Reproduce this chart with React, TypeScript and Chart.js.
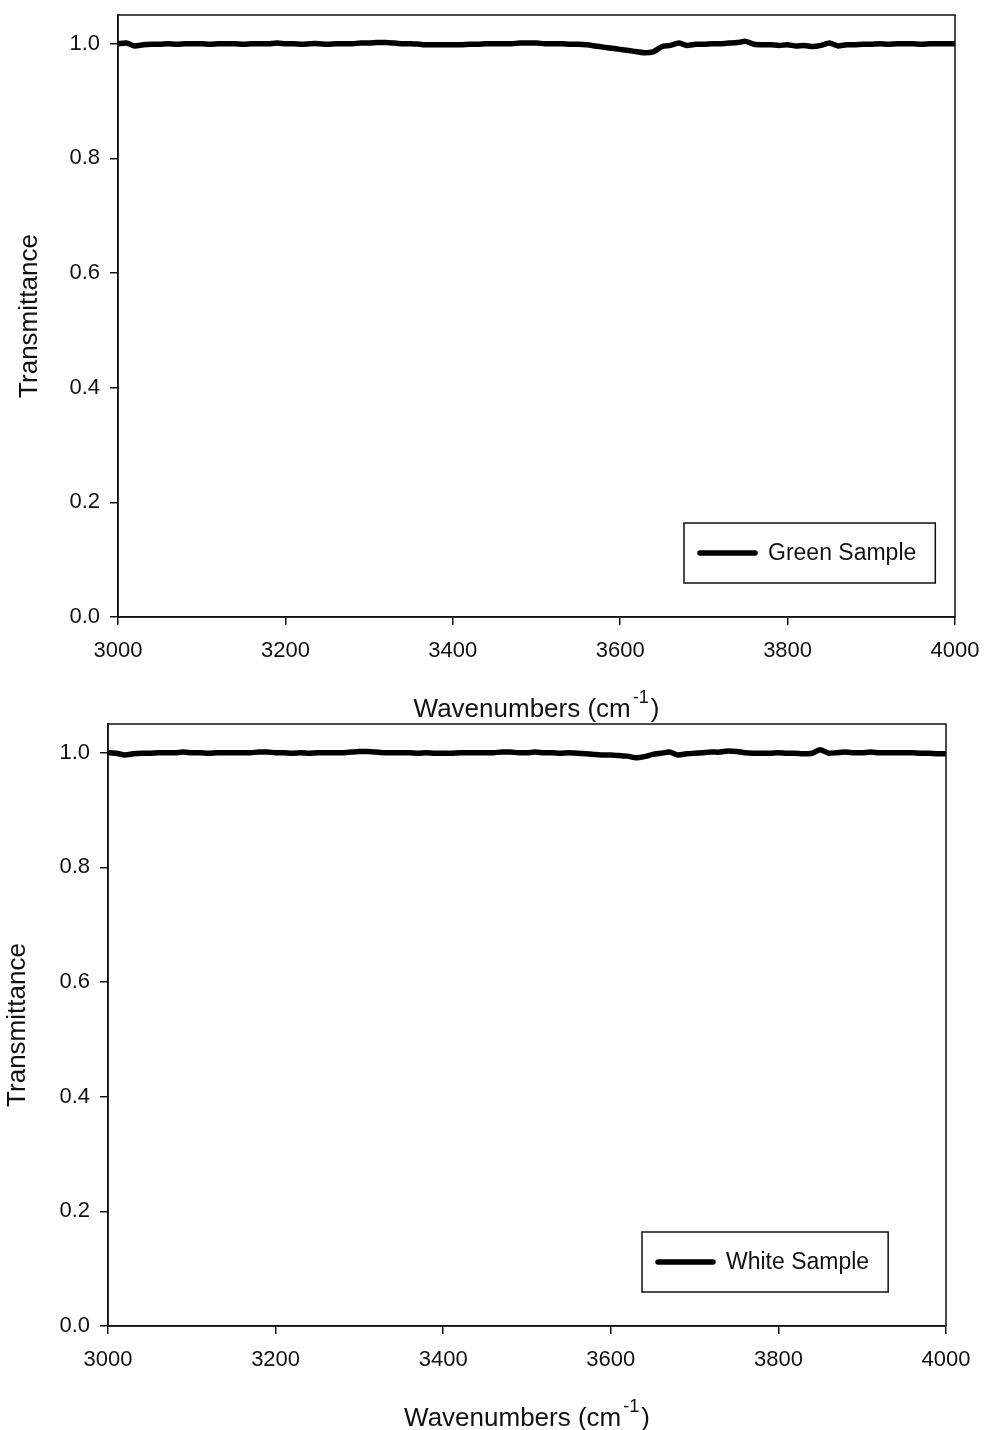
import { useEffect, useRef } from "react";
import { Chart, registerables } from "chart.js";

Chart.register(...registerables);

const FONT = "'Liberation Sans', Arial, Helvetica, sans-serif";
const INK = "#111";

// Wavenumber grid (cm^-1)
const wavenumbers = [
  3000, 3010, 3020, 3030, 3040, 3050, 3060, 3070, 3080, 3090,
  3100, 3110, 3120, 3130, 3140, 3150, 3160, 3170, 3180, 3190,
  3200, 3210, 3220, 3230, 3240, 3250, 3260, 3270, 3280, 3290,
  3300, 3310, 3320, 3330, 3340, 3350, 3360, 3370, 3380, 3390,
  3400, 3410, 3420, 3430, 3440, 3450, 3460, 3470, 3480, 3490,
  3500, 3510, 3520, 3530, 3540, 3550, 3560, 3570, 3580, 3590,
  3600, 3610, 3620, 3630, 3640, 3650, 3660, 3670, 3680, 3690,
  3700, 3710, 3720, 3730, 3740, 3750, 3760, 3770, 3780, 3790,
  3800, 3810, 3820, 3830, 3840, 3850, 3860, 3870, 3880, 3890,
  3900, 3910, 3920, 3930, 3940, 3950, 3960, 3970, 3980, 3990,
  4000,
];

// Transmittance of the green sample
const greenSample = [
  1.000, 1.001, 0.996, 0.998, 0.999, 0.999, 1.000, 0.999, 1.000, 1.000,
  1.000, 0.999, 1.000, 1.000, 1.000, 0.999, 1.000, 1.000, 1.000, 1.001,
  1.000, 1.000, 0.999, 1.000, 1.000, 0.999, 1.000, 1.000, 1.000, 1.001,
  1.001, 1.002, 1.002, 1.001, 1.000, 1.000, 0.999, 0.998, 0.998, 0.998,
  0.998, 0.998, 0.999, 0.999, 1.000, 1.000, 1.000, 1.000, 1.001, 1.001,
  1.001, 1.000, 1.000, 1.000, 0.999, 0.999, 0.998, 0.996, 0.994, 0.992,
  0.990, 0.988, 0.986, 0.984, 0.986, 0.995, 0.997, 1.001, 0.997, 0.999,
  0.999, 1.000, 1.000, 1.001, 1.002, 1.004, 0.999, 0.998, 0.998, 0.997,
  0.998, 0.996, 0.997, 0.995, 0.997, 1.001, 0.996, 0.998, 0.998, 0.999,
  0.999, 1.000, 0.999, 1.000, 1.000, 1.000, 0.999, 1.000, 1.000, 1.000,
  1.000,
];

// Transmittance of the white sample
const whiteSample = [
  1.000, 0.999, 0.996, 0.998, 0.999, 0.999, 1.000, 1.000, 1.000, 1.001,
  1.000, 1.000, 0.999, 1.000, 1.000, 1.000, 1.000, 1.000, 1.001, 1.001,
  1.000, 1.000, 0.999, 1.000, 0.999, 1.000, 1.000, 1.000, 1.000, 1.001,
  1.002, 1.002, 1.001, 1.000, 1.000, 1.000, 1.000, 0.999, 1.000, 0.999,
  0.999, 0.999, 1.000, 1.000, 1.000, 1.000, 1.000, 1.001, 1.001, 1.000,
  1.000, 1.001, 1.000, 1.000, 0.999, 1.000, 0.999, 0.998, 0.997, 0.996,
  0.996, 0.995, 0.994, 0.991, 0.993, 0.997, 0.999, 1.001, 0.996, 0.998,
  0.999, 1.000, 1.001, 1.001, 1.003, 1.002, 1.000, 0.999, 0.999, 0.999,
  1.000, 0.999, 0.999, 0.998, 0.999, 1.005, 0.999, 1.000, 1.001, 1.000,
  1.000, 1.001, 1.000, 1.000, 1.000, 1.000, 1.000, 0.999, 0.999, 0.998,
  0.998,
];

const xTickValues = [3000, 3200, 3400, 3600, 3800, 4000];
const yTickValues = [0, 0.2, 0.4, 0.6, 0.8, 1.0];
const X_MIN = 3000;
const X_MAX = 4000;
const Y_MIN = 0;
const Y_MAX = 1.05;

const Y_TITLE = "Transmittance";
const X_TITLE_MAIN = "Wavenumbers (cm";
const X_TITLE_SUP = "-1";
const X_TITLE_END = ")";

type PanelLayout = {
  top: number;
  height: number;
  padTop: number;
  padRight: number;
  yAxisWidth: number;
  xAxisHeight: number;
  yTitleOffset: number;
  xTitleBaseline: number;
  legendLeft: number;
};

// Frame, axis titles and the boxed legend
const decorPlugin = {
  id: "decor",
  afterDraw(chart: any, _args: any, opts: any) {
    const { ctx, chartArea: a } = chart;
    ctx.save();

    ctx.strokeStyle = INK;
    ctx.lineWidth = 1.5;
    ctx.strokeRect(a.left, a.top, a.right - a.left, a.bottom - a.top);

    ctx.fillStyle = INK;

    // y title
    ctx.save();
    ctx.font = `26px ${FONT}`;
    ctx.textAlign = "center";
    ctx.textBaseline = "middle";
    ctx.translate(a.left - opts.yTitleOffset, (a.top + a.bottom) / 2);
    ctx.rotate(-Math.PI / 2);
    ctx.fillText(Y_TITLE, 0, 0);
    ctx.restore();

    // x title with superscript
    ctx.textAlign = "left";
    ctx.textBaseline = "alphabetic";
    ctx.font = `26px ${FONT}`;
    const wMain = ctx.measureText(X_TITLE_MAIN).width;
    const wEnd = ctx.measureText(X_TITLE_END).width;
    ctx.font = `18px ${FONT}`;
    const wSup = ctx.measureText(X_TITLE_SUP).width;
    const gap = 2;
    const total = wMain + gap + wSup + gap + wEnd;
    let x = (a.left + a.right) / 2 - total / 2;
    const base = a.bottom + opts.xTitleBaseline;
    ctx.font = `26px ${FONT}`;
    ctx.fillText(X_TITLE_MAIN, x, base);
    x += wMain + gap;
    ctx.font = `18px ${FONT}`;
    ctx.fillText(X_TITLE_SUP, x, base - 14);
    x += wSup + gap;
    ctx.font = `26px ${FONT}`;
    ctx.fillText(X_TITLE_END, x, base);

    // legend
    const label = chart.data.datasets[0].label;
    ctx.font = `23px ${FONT}`;
    const wLabel = ctx.measureText(label).width;
    const left = a.left + opts.legendLeft;
    const top = a.bottom - 94;
    const h = 60;
    const w = 84 + wLabel + 19;
    ctx.lineWidth = 1.5;
    ctx.strokeRect(left, top, w, h);
    const cy = top + h / 2;
    ctx.lineWidth = 5.5;
    ctx.lineCap = "round";
    ctx.strokeStyle = "#000";
    ctx.beginPath();
    ctx.moveTo(left + 16, cy);
    ctx.lineTo(left + 71, cy);
    ctx.stroke();
    ctx.textBaseline = "middle";
    ctx.fillText(label, left + 84, cy + 1);

    ctx.restore();
  },
};

const zeroScalePadding = (s: any) => {
  s.paddingTop = 0;
  s.paddingBottom = 0;
  s.paddingLeft = 0;
  s.paddingRight = 0;
};

function SpectrumPanel({ values, label, layout }: { values: number[]; label: string; layout: PanelLayout }) {
  const ref = useRef<HTMLCanvasElement>(null);

  useEffect(() => {
    const canvas = ref.current;
    if (!canvas) return;
    const points = wavenumbers.map((w, i) => ({ x: w, y: values[i] }));
    const chart = new Chart(canvas, {
      type: "line",
      data: {
        datasets: [
          {
            label,
            data: points,
            borderColor: "#000",
            borderWidth: 5.5,
            borderCapStyle: "round",
            borderJoinStyle: "round",
            pointRadius: 0,
            tension: 0.2,
            fill: false,
          },
        ],
      },
      options: {
        responsive: false,
        animation: false,
        devicePixelRatio: 1,
        events: [],
        layout: { padding: { top: layout.padTop, right: layout.padRight, left: 0, bottom: 0 } },
        plugins: {
          legend: { display: false },
          tooltip: { enabled: false },
          decor: {
            yTitleOffset: layout.yTitleOffset,
            xTitleBaseline: layout.xTitleBaseline,
            legendLeft: layout.legendLeft,
          },
        } as any,
        scales: {
          x: {
            type: "linear",
            min: X_MIN,
            max: X_MAX,
            afterBuildTicks: (s: any) => {
              s.ticks = xTickValues.map((v) => ({ value: v }));
            },
            afterFit: (s: any) => {
              s.height = layout.xAxisHeight;
              zeroScalePadding(s);
            },
            grid: { drawOnChartArea: false, drawTicks: true, tickLength: 8, color: INK, lineWidth: 1.5 },
            border: { display: true, color: INK, width: 1.5 },
            ticks: {
              color: INK,
              font: { family: FONT, size: 22 },
              padding: 13,
              maxRotation: 0,
              autoSkip: false,
              callback: (v: any) => String(v),
            },
          },
          y: {
            type: "linear",
            min: Y_MIN,
            max: Y_MAX,
            afterBuildTicks: (s: any) => {
              s.ticks = yTickValues.map((v) => ({ value: v }));
            },
            afterFit: (s: any) => {
              s.width = layout.yAxisWidth;
              zeroScalePadding(s);
            },
            grid: { drawOnChartArea: false, drawTicks: true, tickLength: 8, color: INK, lineWidth: 1.5 },
            border: { display: true, color: INK, width: 1.5 },
            ticks: {
              color: INK,
              font: { family: FONT, size: 22 },
              padding: 10,
              autoSkip: false,
              callback: (v: any) => Number(v).toFixed(1),
            },
          },
        },
      },
      plugins: [decorPlugin],
    } as any);
    return () => chart.destroy();
  }, [values, label, layout]);

  return (
    <canvas
      ref={ref}
      width={984}
      height={layout.height}
      style={{ position: "absolute", left: 0, top: layout.top, width: 984, height: layout.height }}
    />
  );
}

const topLayout: PanelLayout = {
  top: 0,
  height: 722,
  padTop: 15,
  padRight: 29,
  yAxisWidth: 118,
  xAxisHeight: 105,
  yTitleOffset: 88,
  xTitleBaseline: 100,
  legendLeft: 566,
};

const bottomLayout: PanelLayout = {
  top: 712,
  height: 718,
  padTop: 12,
  padRight: 38,
  yAxisWidth: 108,
  xAxisHeight: 104,
  yTitleOffset: 90,
  xTitleBaseline: 100,
  legendLeft: 534,
};

export default function App() {
  return (
    <div style={{ position: "absolute", left: 0, top: 0, width: 984, height: 1430, background: "#fff" }}>
      <SpectrumPanel values={greenSample} label="Green Sample" layout={topLayout} />
      <SpectrumPanel values={whiteSample} label="White Sample" layout={bottomLayout} />
    </div>
  );
}
